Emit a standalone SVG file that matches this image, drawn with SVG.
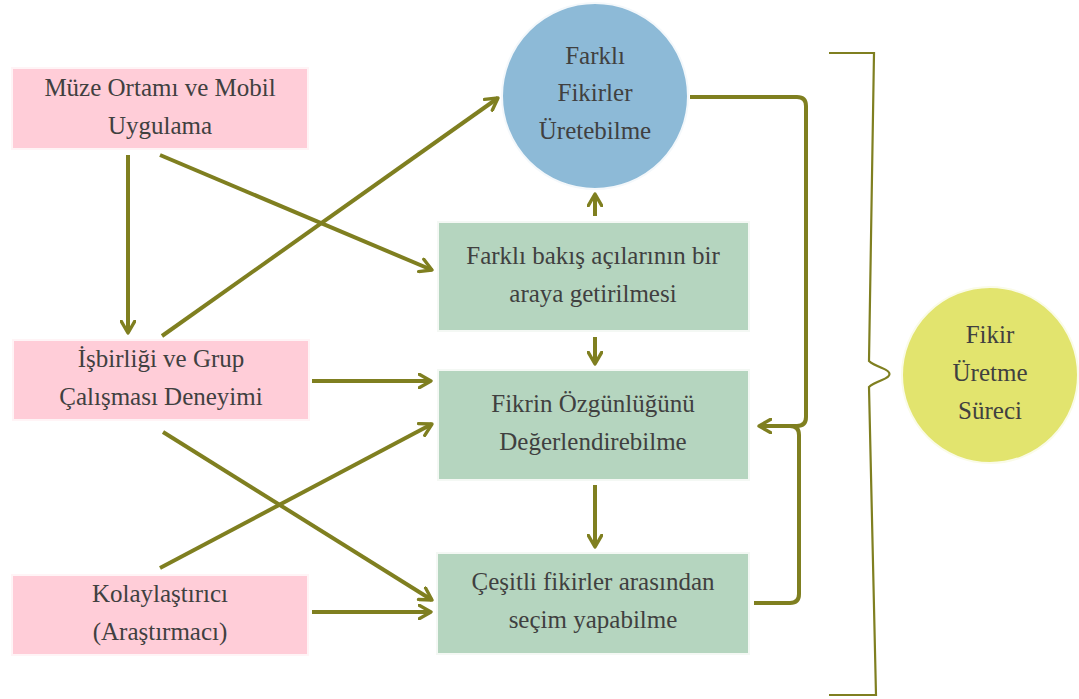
<svg xmlns="http://www.w3.org/2000/svg" width="1079" height="699" viewBox="0 0 1079 699">
  <defs>
    <style>
      .pink { fill: #ffcdd8; stroke: #fff4f6; stroke-width: 2; }
      .green { fill: #b5d5bf; stroke: #f4f8f4; stroke-width: 2; }
      .lbl { font-size: 25px; fill: #404040; text-anchor: middle; }
      .con { fill: none; stroke: #7f7f20; stroke-width: 4; stroke-linecap: butt; stroke-linejoin: round; }
      .brace { fill: none; stroke: #7f7f20; stroke-width: 2.2; stroke-linejoin: miter; }
    </style>
    <marker id="arr" viewBox="0 0 10 10" refX="8" refY="5" markerWidth="4.2" markerHeight="4.2" orient="auto" markerUnits="strokeWidth">
      <path d="M1,1 L8,5 L1,9" fill="none" stroke="#7f7f20" stroke-width="2" stroke-linecap="round" stroke-linejoin="round"/>
    </marker>
  </defs>

  <rect width="1079" height="699" fill="#ffffff"/>

  <g id="connectors">
    <path class="con" d="M128,155 L128,333" marker-end="url(#arr)"/>
    <path class="con" d="M160,155 L432,270" marker-end="url(#arr)"/>
    <path class="con" d="M162,336 L498,98" marker-end="url(#arr)"/>
    <path class="con" d="M312,381 L431,381" marker-end="url(#arr)"/>
    <path class="con" d="M163,432 L432,600" marker-end="url(#arr)"/>
    <path class="con" d="M160,568 L432,424" marker-end="url(#arr)"/>
    <path class="con" d="M312,612 L431,612" marker-end="url(#arr)"/>
    <path class="con" d="M595,216 L595,194" marker-end="url(#arr)"/>
    <path class="con" d="M595,337 L595,364" marker-end="url(#arr)"/>
    <path class="con" d="M595,485 L595,547" marker-end="url(#arr)"/>
    <path class="con" d="M690,97 L797,97 Q806,97 806,106 L806,417 Q806,426 797,426 L759,426" marker-end="url(#arr)"/>
    <path class="con" d="M754,603 L790,603 Q799,603 799,594 L799,435 Q799,426 790,426 L759,426"/>
  </g>

  <g id="brace">
    <path class="brace" d="M829,53 L874,53 L869,361 Q872,364 882,368 Q897,374 882,380 Q872,384 869,387 L876,695 L829,695"/>
  </g>

  <g font-family="'Liberation Serif', 'DejaVu Serif', serif">
    <g id="node-muze">
      <rect class="pink" x="12" y="68" width="296" height="81"/>
      <text class="lbl" x="160" y="96">Müze Ortamı ve Mobil</text>
      <text class="lbl" x="160" y="134">Uygulama</text>
    </g>

    <g id="node-isbirligi">
      <rect class="pink" x="13" y="340" width="296" height="80"/>
      <text class="lbl" x="161" y="367">İşbirliği ve Grup</text>
      <text class="lbl" x="161" y="405">Çalışması Deneyimi</text>
    </g>

    <g id="node-kolaylastirici">
      <rect class="pink" x="12" y="575" width="296" height="80"/>
      <text class="lbl" x="160" y="602">Kolaylaştırıcı</text>
      <text class="lbl" x="160" y="640">(Araştırmacı)</text>
    </g>

    <g id="node-farkli-fikirler">
      <circle cx="595" cy="96" r="93" fill="#8dbad7" stroke="#f4f8fb" stroke-width="2"/>
      <text class="lbl" x="595" y="64">Farklı</text>
      <text class="lbl" x="595" y="101">Fikirler</text>
      <text class="lbl" x="595" y="139">Üretebilme</text>
    </g>

    <g id="node-bakis">
      <rect class="green" x="438" y="222" width="311" height="109"/>
      <text class="lbl" x="593" y="264">Farklı bakış açılarının bir</text>
      <text class="lbl" x="593" y="302">araya getirilmesi</text>
    </g>

    <g id="node-ozgunluk">
      <rect class="green" x="438" y="370" width="311" height="110"/>
      <text class="lbl" x="593" y="412">Fikrin Özgünlüğünü</text>
      <text class="lbl" x="593" y="450">Değerlendirebilme</text>
    </g>

    <g id="node-secim">
      <rect class="green" x="437" y="553" width="312" height="101"/>
      <text class="lbl" x="593" y="590">Çeşitli fikirler arasından</text>
      <text class="lbl" x="593" y="628">seçim yapabilme</text>
    </g>

    <g id="node-surec">
      <circle cx="990" cy="375" r="88" fill="#e2e46e" stroke="#fafbe8" stroke-width="2"/>
      <text class="lbl" x="990" y="343">Fikir</text>
      <text class="lbl" x="990" y="381">Üretme</text>
      <text class="lbl" x="990" y="419">Süreci</text>
    </g>
  </g>
</svg>
